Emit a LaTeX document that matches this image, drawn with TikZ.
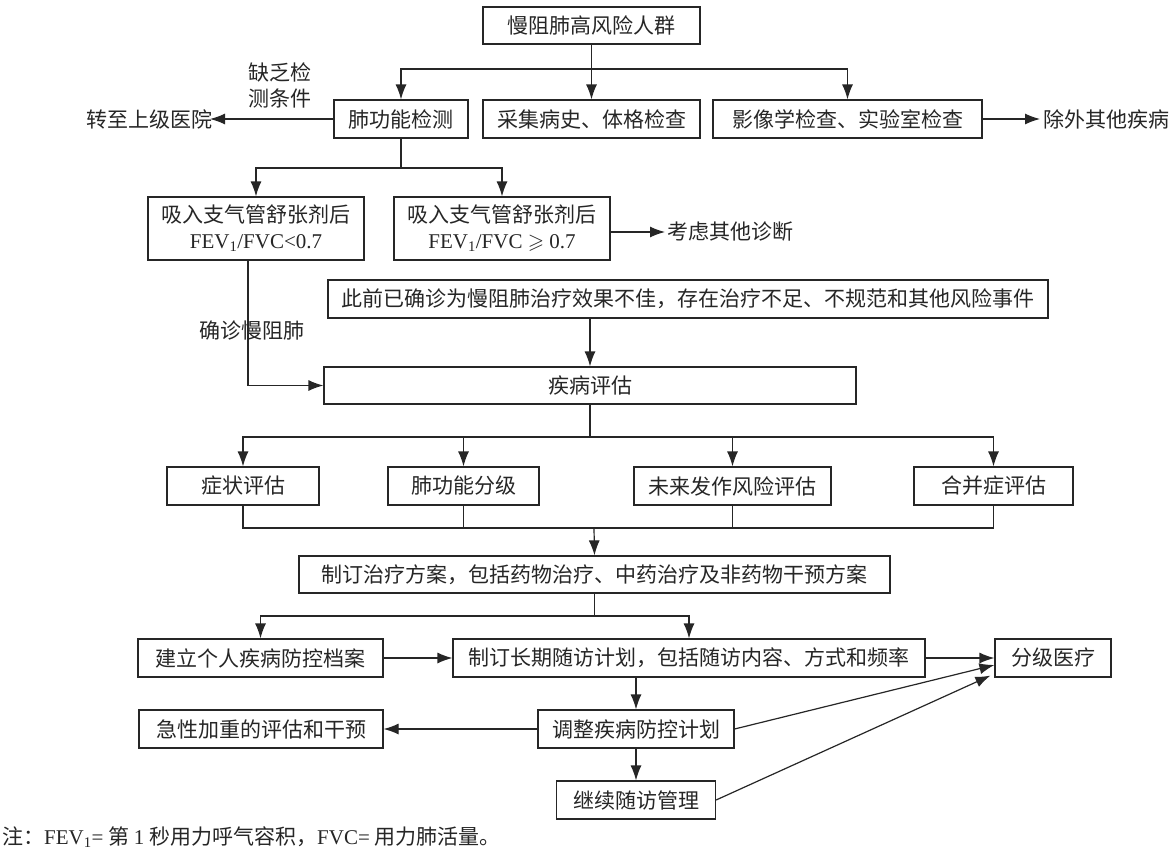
\documentclass[tikz,border=0pt]{standalone}
\usepackage{amsmath}
\usepackage{amssymb}
\usepackage{fontspec}
\setmainfont{Liberation Serif}
\newfontfamily\cjk{Noto Sans CJK SC}
\usepackage{tikz}
\usetikzlibrary{arrows.meta,positioning,calc}
\definecolor{ink}{HTML}{262626}
\tikzset{
  >={Latex[length=15pt,width=11pt]},
  box/.style={draw=ink, line width=1.2pt, text=ink, align=center, inner sep=0pt, minimum height=38pt, font=\cjk\fontsize{21}{26}\selectfont},
  lbl/.style={text=ink, align=center, inner sep=0pt, font=\cjk\fontsize{21}{26}\selectfont},
  link/.style={draw=ink, line width=1.2pt},
}

\begin{document}
\begin{tikzpicture}[x=1pt, y=-1pt]
  \path[fill=white] (0,0) rectangle (1170,859);
  \useasboundingbox (0,0) rectangle (1170,859);

  \node[box, minimum width=217pt, minimum height=37pt] (high) at (591.5,25.5) {慢阻肺高风险人群};
  \node[box, minimum width=134pt] (lung) at (401,119) {肺功能检测};
  \node[box, minimum width=217pt] (hist) at (591.5,119) {采集病史、体格检查};
  \node[box, minimum width=269pt] (img) at (847.5,119) {影像学检查、实验室检查};
  \node[lbl, anchor=west] (exclude) at (1043,119) {除外其他疾病};
  \node[lbl, anchor=east] (refer) at (213,119) {转至上级医院};
  \node[lbl] (lack) at (280,85) {缺乏检\\测条件};

  \node[box, minimum width=216pt, minimum height=63pt] (fevlo) at (256,228.5) {吸入支气管舒张剂后\\{\rmfamily FEV\textsubscript{1}/FVC<0.7}};
  \node[box, minimum width=216pt, minimum height=63pt] (fevhi) at (502,228.5) {吸入支气管舒张剂后\\{\rmfamily FEV\textsubscript{1}/FVC $\geqslant$ 0.7}};
  \node[lbl, anchor=west] (otherdx) at (667,232) {考虑其他诊断};

  \node[box, minimum width=720pt] (prior) at (688,299) {此前已确诊为慢阻肺治疗效果不佳，存在治疗不足、不规范和其他风险事件};
  \node[lbl] (confirm) at (252,330) {确诊慢阻肺};
  \node[box, minimum width=532pt, minimum height=37pt] (assess) at (590,385.5) {疾病评估};

  \node[box, minimum width=152pt] (sym) at (243,486) {症状评估};
  \node[box, minimum width=151pt] (grade) at (463.5,486) {肺功能分级};
  \node[box, minimum width=197pt] (future) at (732.5,486) {未来发作风险评估};
  \node[box, minimum width=159pt] (comor) at (993.5,486) {合并症评估};

  \node[box, minimum width=591pt, minimum height=37pt] (plan) at (594.5,574.5) {制订治疗方案，包括药物治疗、中药治疗及非药物干预方案};

  \node[box, minimum width=245pt] (file) at (260.5,658) {建立个人疾病防控档案};
  \node[box, minimum width=472pt] (follow) at (689,658) {制订长期随访计划，包括随访内容、方式和频率};
  \node[box, minimum width=116pt] (tier) at (1053,658) {分级医疗};
  \node[box, minimum width=196pt] (adjust) at (636,729) {调整疾病防控计划};
  \node[box, minimum width=244pt] (acute) at (261,729) {急性加重的评估和干预};
  \node[box, minimum width=159pt] (cont) at (636,800) {继续随访管理};

  \node[lbl, anchor=west] (note) at (2,837) {注：{\rmfamily FEV\textsubscript{1}=} 第 {\rmfamily 1} 秒用力呼气容积，{\rmfamily FVC=} 用力肺活量。};

  \coordinate (split1) at (591.5,69);
  \coordinate (split2) at (401,168);
  \coordinate (split3) at (590,437);
  \coordinate (join) at (594,528);
  \coordinate (split4) at (594.5,616);

  \draw[link] (high.south) -- (split1);
  \draw[link, ->] (split1) -| (lung.north);
  \draw[link, ->] (split1) -- (hist.north);
  \draw[link, ->] (split1) -| (img.north);
  \draw[link, ->] (lung.west) -- ([xshift=-3pt]refer.east);
  \draw[link, ->] (img.east) -- ([xshift=-3pt]exclude.west);

  \draw[link] (lung.south) -- (split2);
  \draw[link, ->] (split2) -| (fevlo.north);
  \draw[link, ->] (split2) -| (fevhi.north);
  \draw[link, ->] (fevhi.east |- otherdx.west) -- ([xshift=-2pt]otherdx.west);

  \draw[link, ->] ([xshift=-8pt]fevlo.south) |- (assess.west);
  \draw[link, ->] (assess.north |- prior.south) -- (assess.north);

  \draw[link] (assess.south) -- (split3);
  \draw[link, ->] (split3) -| (sym.north);
  \draw[link, ->] (split3) -| (grade.north);
  \draw[link, ->] (split3) -| (future.north);
  \draw[link, ->] (split3) -| (comor.north);

  \draw[link] (sym.south) |- (join) -| (comor.south);
  \draw[link] (grade.south) -- (grade.south |- join);
  \draw[link] (future.south) -- (future.south |- join);
  \draw[link, ->] (join) -- (plan.north);

  \draw[link] (plan.south) -- (split4);
  \draw[link, ->] (split4) -| (file.north);
  \draw[link, ->] (split4) -| (follow.north);
  \draw[link, ->] (file) -- (follow);
  \draw[link, ->] (follow) -- (tier);
  \draw[link, ->] (adjust.north |- follow.south) -- (adjust.north);
  \draw[link, ->] (adjust) -- (acute);
  \draw[link, ->] (adjust) -- (cont);
  \draw[link, ->] (adjust.east) -- ([yshift=-7pt]tier.west);
  \draw[link, ->] (cont.east) -- ([xshift=-4pt,yshift=2pt]tier.south west);
\end{tikzpicture}
\end{document}
